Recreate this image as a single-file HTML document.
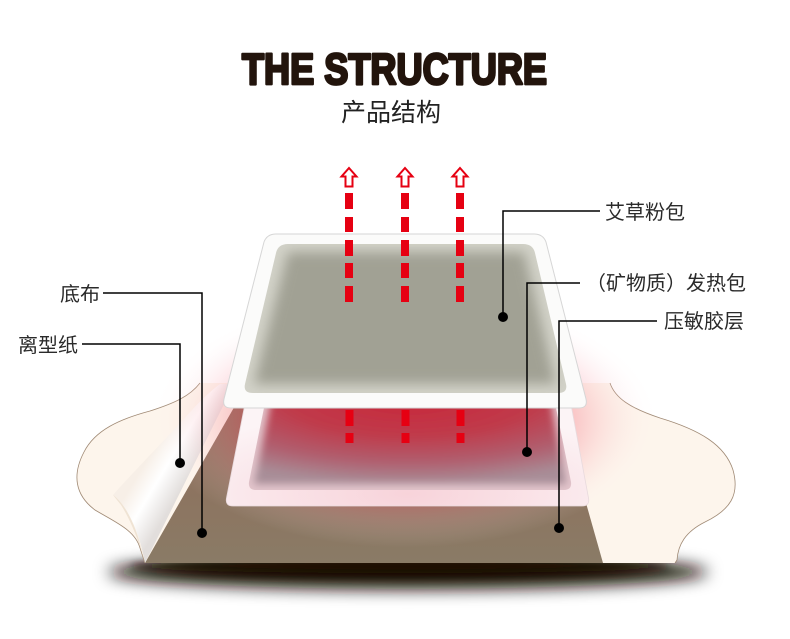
<!DOCTYPE html>
<html>
<head>
<meta charset="utf-8">
<style>
  html,body{margin:0;padding:0;background:#ffffff;}
  body{width:790px;height:639px;overflow:hidden;}
  svg{display:block;}
</style>
</head>
<body>
<svg width="790" height="639" viewBox="0 0 790 639" xmlns="http://www.w3.org/2000/svg">
  <defs>
    <filter id="b4" x="-20%" y="-20%" width="140%" height="140%"><feGaussianBlur stdDeviation="4"/></filter>
    <filter id="b6" x="-20%" y="-20%" width="140%" height="140%"><feGaussianBlur stdDeviation="6"/></filter>
    <filter id="sh" x="-20%" y="-200%" width="140%" height="500%"><feGaussianBlur stdDeviation="8"/></filter>
    <filter id="sh2" x="-20%" y="-200%" width="140%" height="500%"><feGaussianBlur stdDeviation="4"/></filter>

    <radialGradient id="glow" cx="405" cy="420" r="255" gradientUnits="userSpaceOnUse" gradientTransform="translate(405 420) scale(1 0.5) translate(-405 -420)">
      <stop offset="0" stop-color="#e8203c" stop-opacity="0.65"/>
      <stop offset="0.6" stop-color="#f04a62" stop-opacity="0.38"/>
      <stop offset="1" stop-color="#ffffff" stop-opacity="0"/>
    </radialGradient>

    <linearGradient id="brown" x1="0" y1="383" x2="0" y2="563" gradientUnits="userSpaceOnUse">
      <stop offset="0" stop-color="#8e6656"/>
      <stop offset="0.55" stop-color="#8d735f"/>
      <stop offset="1" stop-color="#8a7b66"/>
    </linearGradient>

    <linearGradient id="curl" x1="150" y1="455" x2="188" y2="478" gradientUnits="userSpaceOnUse">
      <stop offset="0" stop-color="#f7efe7"/>
      <stop offset="0.45" stop-color="#ffffff"/>
      <stop offset="1" stop-color="#e2dedc"/>
    </linearGradient>

    <radialGradient id="heatOuter" cx="0.5" cy="0.9" r="0.7">
      <stop offset="0" stop-color="#f8d3da"/>
      <stop offset="0.6" stop-color="#fae6ea"/>
      <stop offset="1" stop-color="#fcf4f6"/>
    </radialGradient>

    <radialGradient id="red" cx="0.5" cy="0.1" r="0.9">
      <stop offset="0" stop-color="#c8263a"/>
      <stop offset="0.45" stop-color="#c03a4a"/>
      <stop offset="0.75" stop-color="#b05e6e"/>
      <stop offset="1" stop-color="#a88e98"/>
    </radialGradient>

    <clipPath id="topInnerClip">
      <path d="M 288,244 L 523,244 Q 533,244 535,253 L 566,384 Q 568,393 558,393 L 253,393 Q 243,393 245,384 L 276,253 Q 278,244 288,244 Z"/>
    </clipPath>
    <clipPath id="heatInnerClip">
      <path d="M 276,390 L 544,390 Q 552,390 554,398 L 571,482 Q 572,490 564,490 L 256,490 Q 248,490 249,482 L 266,398 Q 268,390 276,390 Z"/>
    </clipPath>
  </defs>

  <!-- Title -->
  <text x="242" y="84" font-family="Liberation Sans, Arial, sans-serif" font-weight="bold" font-size="44" textLength="305" lengthAdjust="spacingAndGlyphs" fill="#22140c" stroke="#22140c" stroke-width="2.8" stroke-linejoin="round">THE STRUCTURE</text>
  <text x="341" y="121" font-family="Liberation Sans, 'Noto Sans CJK SC', sans-serif" font-size="25" fill="#222222">产品结构</text>

  <!-- Shadow under base -->
  <ellipse cx="408" cy="572" rx="300" ry="17" fill="#140a02" filter="url(#sh)"/>
  <ellipse cx="400" cy="566" rx="270" ry="7" fill="#1e1006" filter="url(#sh2)"/>

  <!-- Peach release paper -->
  <path d="M200,383 C190,396 175,403 150,411 C120,419 95,430 84,452 C72,475 75,495 95,510 C115,522 135,530 140,548 L145,563 L675,563 L677,560 C678,545 685,532 705,522 C730,510 740,495 733,470 C725,445 700,430 660,418 C630,408 615,398 610,383 Z" fill="#fdf5ec"/>
  <path d="M200,383 C190,396 175,403 150,411 C120,419 95,430 84,452 C72,475 75,495 95,510 C115,522 135,530 140,548 L145,563" fill="none" stroke="#a08a75" stroke-width="0.8"/>
  <path d="M610,383 C615,398 630,408 660,418 C700,430 725,445 733,470 C740,495 730,510 705,522 C685,532 678,545 677,560 L675,563" fill="none" stroke="#a08a75" stroke-width="0.8"/>

  <!-- Brown base -->
  <polygon points="248,383 552,383 603,563 145,563" fill="url(#brown)"/>

  <!-- Curl of release paper -->
  <path d="M234,384 L145,563 C141,540 132,512 113,495 C135,470 165,440 192,410 C203,398 212,390 220,384 Z" fill="url(#curl)"/>
  <path d="M113,495 C124,503 133,520 139,540 L145,563 C140,545 132,522 121,505 Z" fill="#efe3d4"/>

  <!-- Red glow -->
  <ellipse cx="405" cy="420" rx="255" ry="128" fill="url(#glow)"/>

  <!-- Heat pad (middle layer) -->
  <path d="M 255,385 L 561,385 Q 567,385 568.5,391 L 588.5,498 Q 590,506 582,506 L 233,506 Q 225,506 226.5,498 L 247.5,391 Q 249,385 255,385 Z" fill="url(#heatOuter)" stroke="#e8dadd" stroke-width="0.8"/>
  <g clip-path="url(#heatInnerClip)">
    <rect x="240" y="380" width="340" height="120" fill="#e2c4cb"/>
    <path d="M 274,386 L 548,386 L 566,484 L 254,484 Z" fill="url(#red)" filter="url(#b4)"/>
  </g>

  <!-- Lower dashes -->
  <g fill="#e60012">
    <rect x="345.5" y="410" width="8" height="16"/>
    <rect x="345.5" y="433" width="8" height="10"/>
    <rect x="401.5" y="410" width="8" height="16"/>
    <rect x="401.5" y="433" width="8" height="10"/>
    <rect x="456.5" y="410" width="8" height="16"/>
    <rect x="456.5" y="433" width="8" height="10"/>
  </g>

  <!-- Top pad (mugwort) -->
  <path d="M 276,234 L 534,234 Q 543,234 546,242 L 586,399 Q 588,408 579,408 L 231,408 Q 222,408 224,399 L 264,242 Q 267,234 276,234 Z" fill="#fbfbfa" stroke="#d6d6d6" stroke-width="1"/>
  <g clip-path="url(#topInnerClip)">
    <rect x="240" y="240" width="330" height="160" fill="#d2d2c8"/>
    <path d="M 288,252 L 524,252 L 556,384 L 254,384 Z" fill="#a1a194" filter="url(#b6)"/>
  </g>

  <!-- Upper dashes -->
  <g fill="#e60012">
    <rect x="345" y="193" width="8" height="16"/>
    <rect x="345" y="217" width="8" height="15"/>
    <rect x="345" y="240" width="8" height="16"/>
    <rect x="345" y="263" width="8" height="15"/>
    <rect x="345" y="286" width="8" height="16"/>
    <rect x="401" y="193" width="8" height="16"/>
    <rect x="401" y="217" width="8" height="15"/>
    <rect x="401" y="240" width="8" height="16"/>
    <rect x="401" y="263" width="8" height="15"/>
    <rect x="401" y="286" width="8" height="16"/>
    <rect x="456" y="193" width="8" height="16"/>
    <rect x="456" y="217" width="8" height="15"/>
    <rect x="456" y="240" width="8" height="16"/>
    <rect x="456" y="263" width="8" height="15"/>
    <rect x="456" y="286" width="8" height="16"/>
  </g>

  <!-- Hollow arrowheads -->
  <g fill="#ffffff" stroke="#e60012" stroke-width="2" stroke-linejoin="miter">
    <path d="M349,168 L356.5,176.5 L352.5,176.5 L352.5,186.5 L345.5,186.5 L345.5,176.5 L341.5,176.5 Z"/>
    <path d="M405,168 L412.5,176.5 L408.5,176.5 L408.5,186.5 L401.5,186.5 L401.5,176.5 L397.5,176.5 Z"/>
    <path d="M460,168 L467.5,176.5 L463.5,176.5 L463.5,186.5 L456.5,186.5 L456.5,176.5 L452.5,176.5 Z"/>
  </g>

  <!-- Leader lines -->
  <g fill="none" stroke="#000000" stroke-width="1.5">
    <path d="M600,211 H503 V317"/>
    <path d="M580,283 H527 V452"/>
    <path d="M657,321 H559 V528"/>
    <path d="M103,293 H202 V533"/>
    <path d="M82,344 H180 V463"/>
  </g>
  <g fill="#000000">
    <circle cx="503" cy="317" r="5"/>
    <circle cx="527" cy="452" r="5"/>
    <circle cx="559" cy="528" r="5"/>
    <circle cx="202" cy="533" r="5"/>
    <circle cx="180" cy="463" r="5"/>
  </g>

  <!-- Labels -->
  <g font-family="Liberation Sans, 'Noto Sans CJK SC', sans-serif" font-size="20" fill="#2a2a2a">
    <text x="605" y="219">艾草粉包</text>
    <text x="586" y="290">（矿物质）发热包</text>
    <text x="664" y="328">压敏胶层</text>
    <text x="60" y="301">底布</text>
    <text x="18" y="352">离型纸</text>
  </g>
</svg>
</body>
</html>
